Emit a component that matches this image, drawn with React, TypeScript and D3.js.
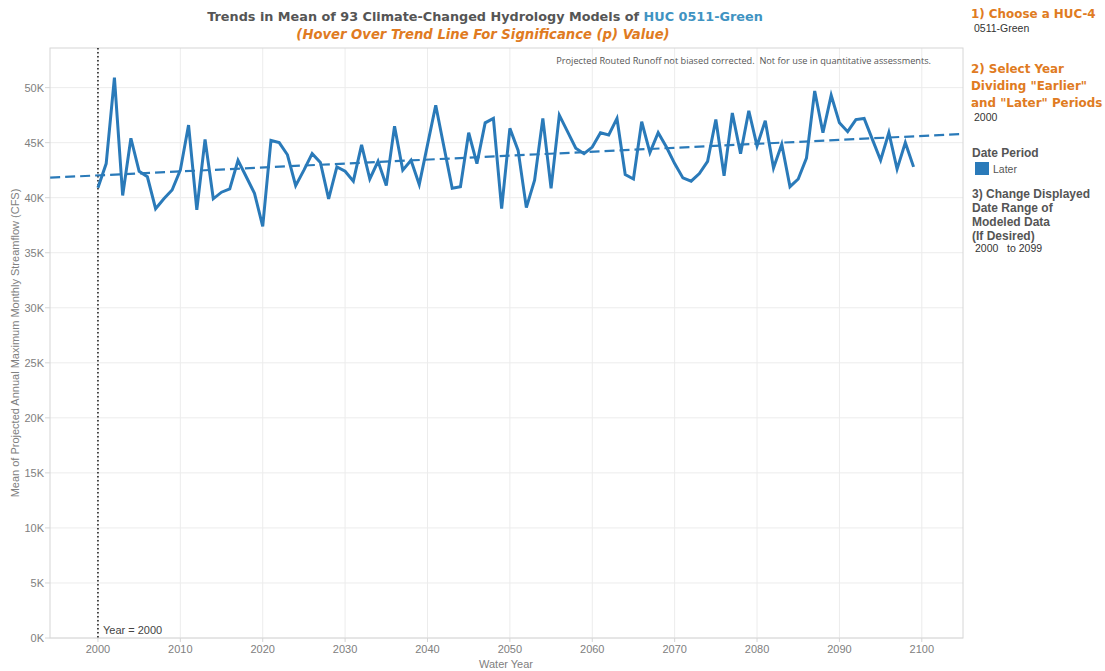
import React from "react";
import * as d3 from "d3";

const years: number[] = Array.from({ length: 100 }, (_, i) => 2000 + i);
const streamflowK: number[] = [
  40.9, 43.1, 50.9, 40.2, 45.4, 42.4, 41.9, 39.0, 39.9, 40.7,
  42.5, 46.6, 38.9, 45.3, 39.9, 40.5, 40.8, 43.4, 41.9, 40.4,
  37.4, 45.2, 45.0, 43.9, 41.1, 42.5, 44.0, 43.2, 39.9, 42.8,
  42.4, 41.5, 44.8, 41.7, 43.3, 41.1, 46.5, 42.5, 43.4, 41.2,
  44.8, 48.4, 44.6, 40.85, 41.0, 45.9, 43.1, 46.8, 47.2, 39.0,
  46.3, 44.3, 39.1, 41.6, 47.2, 40.85, 47.5, 46.0, 44.5, 44.0,
  44.6, 45.9, 45.7, 47.2, 42.1, 41.7, 46.9, 44.1, 45.9, 44.6,
  43.1, 41.8, 41.5, 42.2, 43.3, 47.1, 42.0, 47.7, 44.0, 47.9,
  44.7, 47.0, 42.7, 44.85, 41.0, 41.7, 43.6, 49.7, 45.9, 49.3,
  46.8, 46.0, 47.1, 47.2, 45.3, 43.4, 45.9, 42.6, 45.0, 42.8,
];
const trendEndpoints: { year: number; value: number }[] = [
  { year: 1994.2, value: 41.82 },
  { year: 2105, value: 45.79 },
];
const yTicks: number[] = [0, 5, 10, 15, 20, 25, 30, 35, 40, 45, 50];
const xTicks: number[] = [2000, 2010, 2020, 2030, 2040, 2050, 2060, 2070, 2080, 2090, 2100];

const L = 50, R = 963, T = 48, B = 638;
const BLUE = "#2a7ab9";
const ORANGE = "#e07b22";
const GRAY = "#808080";

export default function App() {
  const x = d3.scaleLinear().domain([1994.18, 2105]).range([L, R]);
  const y = d3.scaleLinear().domain([0, 53.6]).range([B, T]);
  const line = d3
    .line<number>()
    .x((_, i) => x(years[i]))
    .y((d) => y(d))
    .curve(d3.curveLinear);
  const trend = d3
    .line<{ year: number; value: number }>()
    .x((d) => x(d.year))
    .y((d) => y(d.value));

  const font = "Arial, 'Liberation Sans', sans-serif";
  const titleFont = "'DejaVu Sans', Verdana, sans-serif";

  return (
    <svg
      width={1105}
      height={671}
      style={{ position: "absolute", left: 0, top: 0, background: "#fff" }}
      fontFamily={font}
    >
      {/* title */}
      <text x={485} y={21} textAnchor="middle" fontFamily={titleFont} fontWeight="bold" fontSize={12.8} fill="#555">
        Trends in Mean of 93 Climate-Changed Hydrology Models of{" "}
        <tspan fill="#3f93c2">HUC 0511-Green</tspan>
      </text>
      <text x={483} y={39} textAnchor="middle" fontFamily={titleFont} fontWeight="bold" fontStyle="italic" fontSize={13.2} fill={ORANGE}>
        (Hover Over Trend Line For Significance (p) Value)
      </text>

      {/* grid */}
      {yTicks.map((t) => (
        <line key={"gy" + t} x1={L} x2={R} y1={y(t)} y2={y(t)} stroke="#ececec" strokeWidth={1} />
      ))}
      {xTicks.map((t) => (
        <line key={"gx" + t} x1={x(t)} x2={x(t)} y1={T} y2={B} stroke="#ececec" strokeWidth={1} />
      ))}
      <rect x={L} y={T} width={R - L} height={B - T} fill="none" stroke="#d6d6d6" strokeWidth={1} />

      {/* axes labels */}
      {yTicks.map((t) => (
        <g key={"yl" + t}>
          <line x1={L - 5} x2={L} y1={y(t)} y2={y(t)} stroke="#d6d6d6" />
          <text x={L - 6} y={y(t) + 4} textAnchor="end" fontSize={11} fill={GRAY}>
            {t}K
          </text>
        </g>
      ))}
      {xTicks.map((t) => (
        <g key={"xl" + t}>
          <line x1={x(t)} x2={x(t)} y1={B} y2={B + 4} stroke="#d6d6d6" />
          <text x={x(t)} y={B + 15} textAnchor="middle" fontSize={11} fill={GRAY}>
            {t}
          </text>
        </g>
      ))}
      <text x={506} y={668} textAnchor="middle" fontSize={11} fill={GRAY}>
        Water Year
      </text>
      <text
        transform={`translate(19, ${(T + B) / 2}) rotate(-90)`}
        textAnchor="middle"
        fontSize={11}
        fill={GRAY}
      >
        Mean of Projected Annual Maximum Monthly Streamflow (CFS)
      </text>

      {/* note */}
      <text x={931} y={64} textAnchor="end" fontFamily="'Open Sans', sans-serif" fontSize={9.2} fill="#555" style={{ whiteSpace: "pre" }}>
        Projected Routed Runoff not biased corrected.  Not for use in quantitative assessments.
      </text>

      {/* reference line */}
      <line x1={x(2000)} x2={x(2000)} y1={T} y2={B} stroke="#222" strokeWidth={1.6} strokeDasharray="1.6,2.4" />
      <text x={x(2000) + 5} y={B - 4} fontSize={11} fill="#444">
        Year = 2000
      </text>

      {/* trend */}
      <path d={trend(trendEndpoints) || ""} fill="none" stroke={BLUE} strokeWidth={2.2} strokeDasharray="10,5" />
      {/* data */}
      <path d={line(streamflowK) || ""} fill="none" stroke={BLUE} strokeWidth={3} strokeLinejoin="miter" />

      {/* right panel */}
      <g fontFamily={titleFont}>
        <text x={971} y={18} fontWeight="bold" fontSize={11.9} fill={ORANGE}>1) Choose a HUC-4</text>
        <text x={974} y={32} fontFamily={font} fontSize={10.5} fill="#333">0511-Green</text>
        <text x={971} y={73} fontWeight="bold" fontSize={11.9} fill={ORANGE}>2) Select Year</text>
        <text x={971} y={90} fontWeight="bold" fontSize={11.9} fill={ORANGE}>Dividing "Earlier"</text>
        <text x={971} y={107} fontWeight="bold" fontSize={11.9} fill={ORANGE}>and "Later" Periods</text>
        <text x={974} y={121} fontFamily={font} fontSize={10.5} fill="#333">2000</text>
        <text x={972} y={157} fontFamily={font} fontWeight="bold" fontSize={12} fill="#555">Date Period</text>
        <rect x={975} y={162} width={14} height={13} fill={BLUE} />
        <text x={993} y={173} fontFamily={font} fontSize={10.5} fill="#555">Later</text>
        <text x={972} y={198} fontFamily={font} fontWeight="bold" fontSize={12} fill="#555">3) Change Displayed</text>
        <text x={972} y={212} fontFamily={font} fontWeight="bold" fontSize={12} fill="#555">Date Range of</text>
        <text x={972} y={226} fontFamily={font} fontWeight="bold" fontSize={12} fill="#555">Modeled Data</text>
        <text x={972} y={240} fontFamily={font} fontWeight="bold" fontSize={12} fill="#555">(If Desired)</text>
        <text x={975} y={252} fontFamily={font} fontSize={10.5} fill="#333" style={{ whiteSpace: "pre" }}>2000   to 2099</text>
      </g>
    </svg>
  );
}
